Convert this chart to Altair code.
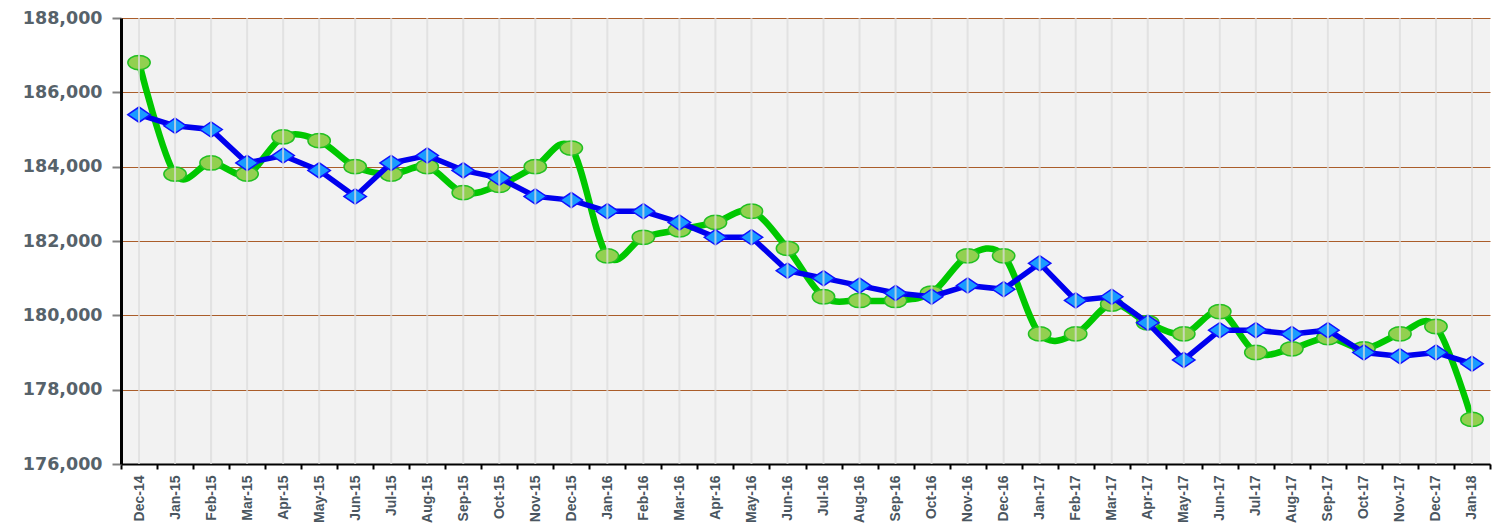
import altair as alt
import pandas as pd

months = ["Dec-14","Jan-15","Feb-15","Mar-15","Apr-15","May-15","Jun-15","Jul-15","Aug-15","Sep-15",
          "Oct-15","Nov-15","Dec-15","Jan-16","Feb-16","Mar-16","Apr-16","May-16","Jun-16","Jul-16",
          "Aug-16","Sep-16","Oct-16","Nov-16","Dec-16","Jan-17","Feb-17","Mar-17","Apr-17","May-17",
          "Jun-17","Jul-17","Aug-17","Sep-17","Oct-17","Nov-17","Dec-17","Jan-18"]

green = [186800,183800,184100,183800,184800,184700,184000,183800,184000,183300,
         183500,184000,184500,181600,182100,182300,182500,182800,181800,180500,
         180400,180400,180600,181600,181600,179500,179500,180300,179800,179500,
         180100,179000,179100,179400,179100,179500,179700,177200]

blue = [185400,185100,185000,184100,184300,183900,183200,184100,184300,183900,
        183700,183200,183100,182800,182800,182500,182100,182100,181200,181000,
        180800,180600,180500,180800,180700,181400,180400,180500,179800,178800,
        179600,179600,179500,179600,179000,178900,179000,178700]

y_ticks = [176000,178000,180000,182000,184000,186000,188000]

df = pd.DataFrame({"month": months, "green": green, "blue": blue})

xenc = alt.X("month:N", sort=months, title=None,
             scale=alt.Scale(type="band", paddingInner=0, paddingOuter=0),
             axis=alt.Axis(labelAngle=-90, labelFont="Liberation Sans",
                           labelFontSize=14, labelFontWeight="bold", labelColor="#4a5660",
                           labelAlign="right", labelBaseline="middle", labelPadding=6,
                           tickBand="extent", tickColor="#000000", tickSize=5, tickWidth=2,
                           domainColor="#000000", domainWidth=2, grid=False))

yscale = alt.Scale(domain=[176000, 188000], nice=False, zero=False)
yaxis = alt.Axis(values=y_ticks, format=",.0f", labelFont="DejaVu Sans", labelFontSize=17.5,
                 labelFontWeight="bold", labelColor="#56626a", labelPadding=10,
                 tickColor="#808080", tickSize=9, tickWidth=2,
                 domainColor="#000000", domainWidth=3,
                 grid=True, gridColor="#a5541f", gridWidth=1, gridOpacity=0.95, title=None)

base = alt.Chart(df)

vgrid = base.mark_rule(color="#dcdcdc", strokeWidth=2, opacity=0.75).encode(x=xenc)

gline = base.mark_line(color="#00c800", strokeWidth=6.5, interpolate="cardinal").encode(
    x=xenc, y=alt.Y("green:Q", scale=yscale, axis=yaxis))

ellipse = "M -1,0 A 1,0.64 0 1,1 1,0 A 1,0.64 0 1,1 -1,0 Z"
diamond = "M -1,0 L 0,-0.68 L 1,0 L 0,0.68 Z"

gpts = base.mark_point(shape=ellipse, size=500, filled=True, fill="#92d050", fillOpacity=1,
                       stroke="#22c022", strokeWidth=1.5, opacity=1).encode(
    x=xenc, y=alt.Y("green:Q", scale=yscale))

bline = base.mark_line(color="#0000ee", strokeWidth=5.5).encode(
    x=xenc, y=alt.Y("blue:Q", scale=yscale))

bpts = base.mark_point(shape=diamond, size=500, filled=True, fill="#1a9cff", fillOpacity=1,
                       stroke="#1010ff", strokeWidth=1.5, opacity=1).encode(
    x=xenc, y=alt.Y("blue:Q", scale=yscale))

chart = alt.layer(gline, gpts, bline, bpts, vgrid).properties(
    width=1369, height=446,
    padding={"left": 14, "top": 1, "right": 4, "bottom": 0}
).configure_view(fill="#f2f2f2", stroke=None)

chart.save("out.html", embed_options={"renderer": "svg", "actions": False})
